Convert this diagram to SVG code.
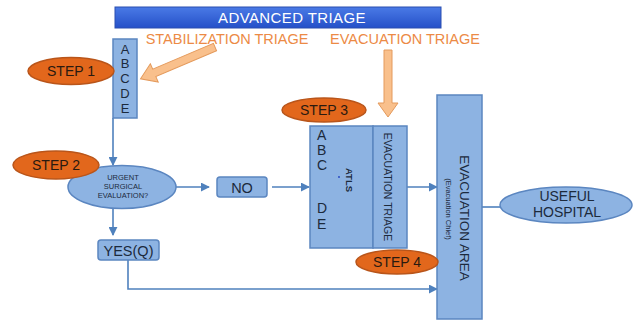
<svg xmlns="http://www.w3.org/2000/svg" width="637" height="323" viewBox="0 0 637 323">
<defs>
<linearGradient id="topbar" x1="0" y1="0" x2="0" y2="1">
<stop offset="0" stop-color="#4a7ae6"/>
<stop offset="1" stop-color="#2550c8"/>
</linearGradient>
<marker id="ah" viewBox="0 0 10 10" refX="9" refY="5" markerWidth="9" markerHeight="9" markerUnits="userSpaceOnUse" orient="auto">
<path d="M0,0 L10,5 L0,10 z" fill="#4f81bd"/>
</marker>
<style>
.box{fill:#8db3e2;stroke:#5b86c0;stroke-width:1.5}
.step{fill:#e2671c;stroke:#b9551a;stroke-width:1.5}
.step-t{font-family:"Liberation Sans",Arial,sans-serif;font-size:14px;fill:#2a1a10;text-anchor:middle}
.t{font-family:"Liberation Sans",Arial,sans-serif;fill:#1c2a3c;text-anchor:middle}
.conn{fill:none;stroke:#4f81bd;stroke-width:1.6}
.peach{fill:#f9c08c;stroke:#e49a5c;stroke-width:1}
.orange-t{font-family:"Liberation Sans",Arial,sans-serif;font-size:14.5px;fill:#ec8a45;text-anchor:middle}
</style>
</defs>
<rect width="637" height="323" fill="#ffffff"/>

<g id="advanced-triage">
<rect x="115" y="7" width="326" height="21" fill="url(#topbar)" stroke="#2a4fb0" stroke-width="1"/>
<text x="292" y="23" class="t" style="font-size:15px;fill:#ffffff;letter-spacing:0.4px">ADVANCED TRIAGE</text>
</g>

<g id="labels">
<text x="227" y="44" class="orange-t">STABILIZATION TRIAGE</text>
<text x="405" y="44" class="orange-t">EVACUATION TRIAGE</text>
</g>

<g id="peach-arrows">
<polygon class="peach" transform="translate(215,47) rotate(156.9)" points="0,-4 66,-4 66,-10 81,0 66,10 66,4 0,4"/>
<polygon class="peach" points="384,50 392,50 392,103 398,103 388,117 378,103 384,103"/>
</g>

<g id="connectors">
<line class="conn" x1="113" y1="118" x2="113" y2="165" marker-end="url(#ah)"/>
<line class="conn" x1="176" y1="187" x2="209" y2="187" marker-end="url(#ah)"/>
<line class="conn" x1="272" y1="187" x2="309" y2="187" marker-end="url(#ah)"/>
<line class="conn" x1="113" y1="208" x2="113" y2="235" marker-end="url(#ah)"/>
<polyline class="conn" points="128,260 128,289 437,289" marker-end="url(#ah)"/>
<line class="conn" x1="397" y1="187" x2="437" y2="187" marker-end="url(#ah)"/>
<line class="conn" x1="482" y1="207" x2="500" y2="207"/>
</g>

<g id="abcde">
<rect class="box" x="113" y="39" width="24" height="79"/>
<text class="t" style="font-size:13px" x="125" y="54">A</text>
<text class="t" style="font-size:13px" x="125" y="68">B</text>
<text class="t" style="font-size:13px" x="125" y="83">C</text>
<text class="t" style="font-size:13px" x="125" y="98">D</text>
<text class="t" style="font-size:13px" x="125" y="113">E</text>
</g>

<g id="step1">
<ellipse class="step" cx="71" cy="71" rx="43" ry="13.5"/>
<text class="step-t" x="71" y="76">STEP 1</text>
</g>

<g id="urgent">
<ellipse class="box" cx="122" cy="187" rx="54" ry="21.5"/>
<text class="t" style="font-size:7.5px" x="123" y="180">URGENT</text>
<text class="t" style="font-size:7.5px" x="123" y="189">SURGICAL</text>
<text class="t" style="font-size:7.5px" x="123" y="198">EVALUATION?</text>
</g>

<g id="step2">
<ellipse class="step" cx="56" cy="165" rx="43" ry="14"/>
<text class="step-t" x="56" y="170">STEP 2</text>
</g>

<g id="no">
<rect class="box" x="217" y="177" width="50" height="20" rx="3"/>
<text class="t" style="font-size:14.5px" x="242" y="192.5">NO</text>
</g>

<g id="yes">
<rect class="box" x="98" y="240" width="61" height="20" rx="3"/>
<text class="t" style="font-size:14.5px" x="128.5" y="255.5">YES(Q)</text>
</g>

<g id="atls">
<rect class="box" x="310" y="126" width="63" height="122"/>
<text class="t" style="font-size:14px;text-anchor:start" x="317" y="140">A</text>
<text class="t" style="font-size:14px;text-anchor:start" x="317" y="155">B</text>
<text class="t" style="font-size:14px;text-anchor:start" x="317" y="170">C</text>
<text class="t" style="font-size:14px;text-anchor:start" x="317" y="213">D</text>
<text class="t" style="font-size:14px;text-anchor:start" x="317" y="229">E</text>
<circle cx="339" cy="177" r="0.9" fill="#2040c0"/>
<text class="t" style="font-size:9.5px;font-weight:bold" transform="translate(346,180) rotate(90)">ATLS</text>
</g>

<g id="evacuation-triage">
<rect class="box" x="373" y="126" width="34" height="122"/>
<text class="t" style="font-size:10.5px" transform="translate(384,187) rotate(90)">EVACUATION TRIAGE</text>
</g>

<g id="step3">
<ellipse class="step" cx="324" cy="110" rx="42" ry="12"/>
<text class="step-t" x="324" y="115">STEP 3</text>
</g>

<g id="evacuation-area">
<rect class="box" x="437" y="95" width="45" height="224"/>
<text class="t" style="font-size:13.5px" transform="translate(460,218) rotate(90)">EVACUATION AREA</text>
<text class="t" style="font-size:7.5px" transform="translate(446,209) rotate(90)">(Evacuation Chief)</text>
</g>

<g id="step4">
<ellipse class="step" cx="397" cy="262" rx="41" ry="12"/>
<text class="step-t" x="397" y="267">STEP 4</text>
</g>

<g id="useful-hospital">
<ellipse class="box" cx="566" cy="205" rx="66" ry="18"/>
<text class="t" style="font-size:14px" x="567" y="201">USEFUL</text>
<text class="t" style="font-size:14px" x="567" y="217">HOSPITAL</text>
</g>
</svg>
